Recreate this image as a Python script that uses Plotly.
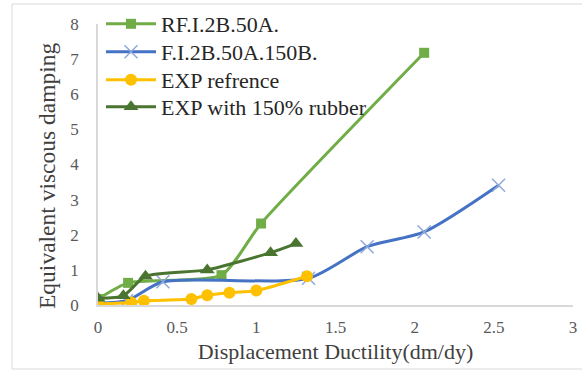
import plotly.graph_objects as go

# ---- data ----
rf_x = [0, 0.19, 0.78, 1.03, 2.06]
rf_y = [0.17, 0.63, 0.85, 2.32, 7.18]

f_x = [0, 0.18, 0.41, 1.33, 1.70, 2.06, 2.53]
f_y = [0.05, 0.12, 0.66, 0.76, 1.66, 2.08, 3.41]

exp_x = [0, 0.21, 0.29, 0.59, 0.69, 0.83, 1.0, 1.32]
exp_y = [0.03, 0.07, 0.12, 0.17, 0.28, 0.35, 0.41, 0.82]

rub_x = [0, 0.16, 0.30, 0.69, 1.09, 1.25]
rub_y = [0.19, 0.26, 0.82, 1.0, 1.49, 1.75]

x_ticks = [0, 0.5, 1, 1.5, 2, 2.5, 3]
x_tick_labels = ["0", "0.5", "1", "1.5", "2", "2.5", "3"]
y_ticks = [0, 1, 2, 3, 4, 5, 6, 7, 8]

FONT = "Liberation Serif"

W, H = 582, 370
L, R, T, B = 98, 9, 24, 65
pw, ph = W - L - R, H - T - B

def px(x):
    return (x - L) / pw

def py(y):
    return (H - B - y) / ph

fig = go.Figure()
fig.add_trace(go.Scatter(
    x=rf_x, y=rf_y, name="RF.I.2B.50A.", mode="lines+markers", legend="legend",
    line=dict(color="#70AD47", width=3, shape="spline", smoothing=0.6),
    marker=dict(symbol="square", size=10, color="#70AD47")))
fig.add_trace(go.Scatter(
    x=f_x, y=f_y, name="F.I.2B.50A.150B.", mode="lines+markers", legend="legend2",
    line=dict(color="#4472C4", width=3, shape="spline", smoothing=0.7),
    marker=dict(symbol="x-thin", size=13, color="#8EA9DB",
                line=dict(color="#8EA9DB", width=1.5))))
fig.add_trace(go.Scatter(
    x=exp_x, y=exp_y, name="EXP refrence", mode="lines+markers", legend="legend3",
    line=dict(color="#FFC000", width=3, shape="spline", smoothing=0.5),
    marker=dict(symbol="circle", size=12, color="#FFC000")))
fig.add_trace(go.Scatter(
    x=rub_x, y=rub_y, name="EXP with 150% rubber", mode="lines+markers", legend="legend4",
    line=dict(color="#4A7530", width=3, shape="spline", smoothing=0.6),
    marker=dict(symbol="triangle-up", size=13, color="#4A7530")))

row_y = [24, 52, 80, 107]

def leg(cy):
    return dict(x=px(101), y=py(cy), xanchor="left", yanchor="middle",
                font=dict(family=FONT, size=22, color="#262626"),
                bgcolor="rgba(0,0,0,0)", itemwidth=50)

fig.update_layout(
    width=W, height=H,
    margin=dict(l=L, r=R, t=T, b=B, autoexpand=False),
    paper_bgcolor="white", plot_bgcolor="white",
    font=dict(family=FONT, color="#404040"),
    showlegend=True,
    legend=leg(row_y[0]), legend2=leg(row_y[1]),
    legend3=leg(row_y[2]), legend4=leg(row_y[3]),
    xaxis=dict(range=[0, 3], tickvals=x_ticks, ticktext=x_tick_labels,
               showgrid=False, zeroline=False, showline=True, automargin=False,
               linecolor="#D9D9D9", linewidth=1.5, ticks="",
               tickfont=dict(family=FONT, size=17, color="#595959"),
               ticklabelstandoff=6,
               title=dict(text="Displacement Ductility(dm/dy)",
                          font=dict(family=FONT, size=22, color="#404040"),
                          standoff=7)),
    yaxis=dict(range=[0, 8], tickvals=y_ticks,
               showgrid=False, zeroline=False, showline=True, automargin=False,
               linecolor="#D9D9D9", linewidth=1.5, ticks="",
               tickfont=dict(family=FONT, size=17, color="#595959"),
               ticklabelstandoff=14),
    annotations=[dict(text="Equivalent viscous damping", textangle=-90,
                      xref="paper", yref="paper", x=px(47), y=py(176),
                      xanchor="center", yanchor="middle", showarrow=False,
                      font=dict(family=FONT, size=23.5, color="#404040"))],
    shapes=[dict(type="rect", xref="paper", yref="paper",
                 x0=px(12), x1=px(586), y0=py(369), y1=py(4),
                 line=dict(color="#D9D9D9", width=1), layer="below")],
)

fig.write_html("out.html", config={"displayModeBar": False},
               post_script="document.body.style.margin='0';document.body.style.padding='0';")
